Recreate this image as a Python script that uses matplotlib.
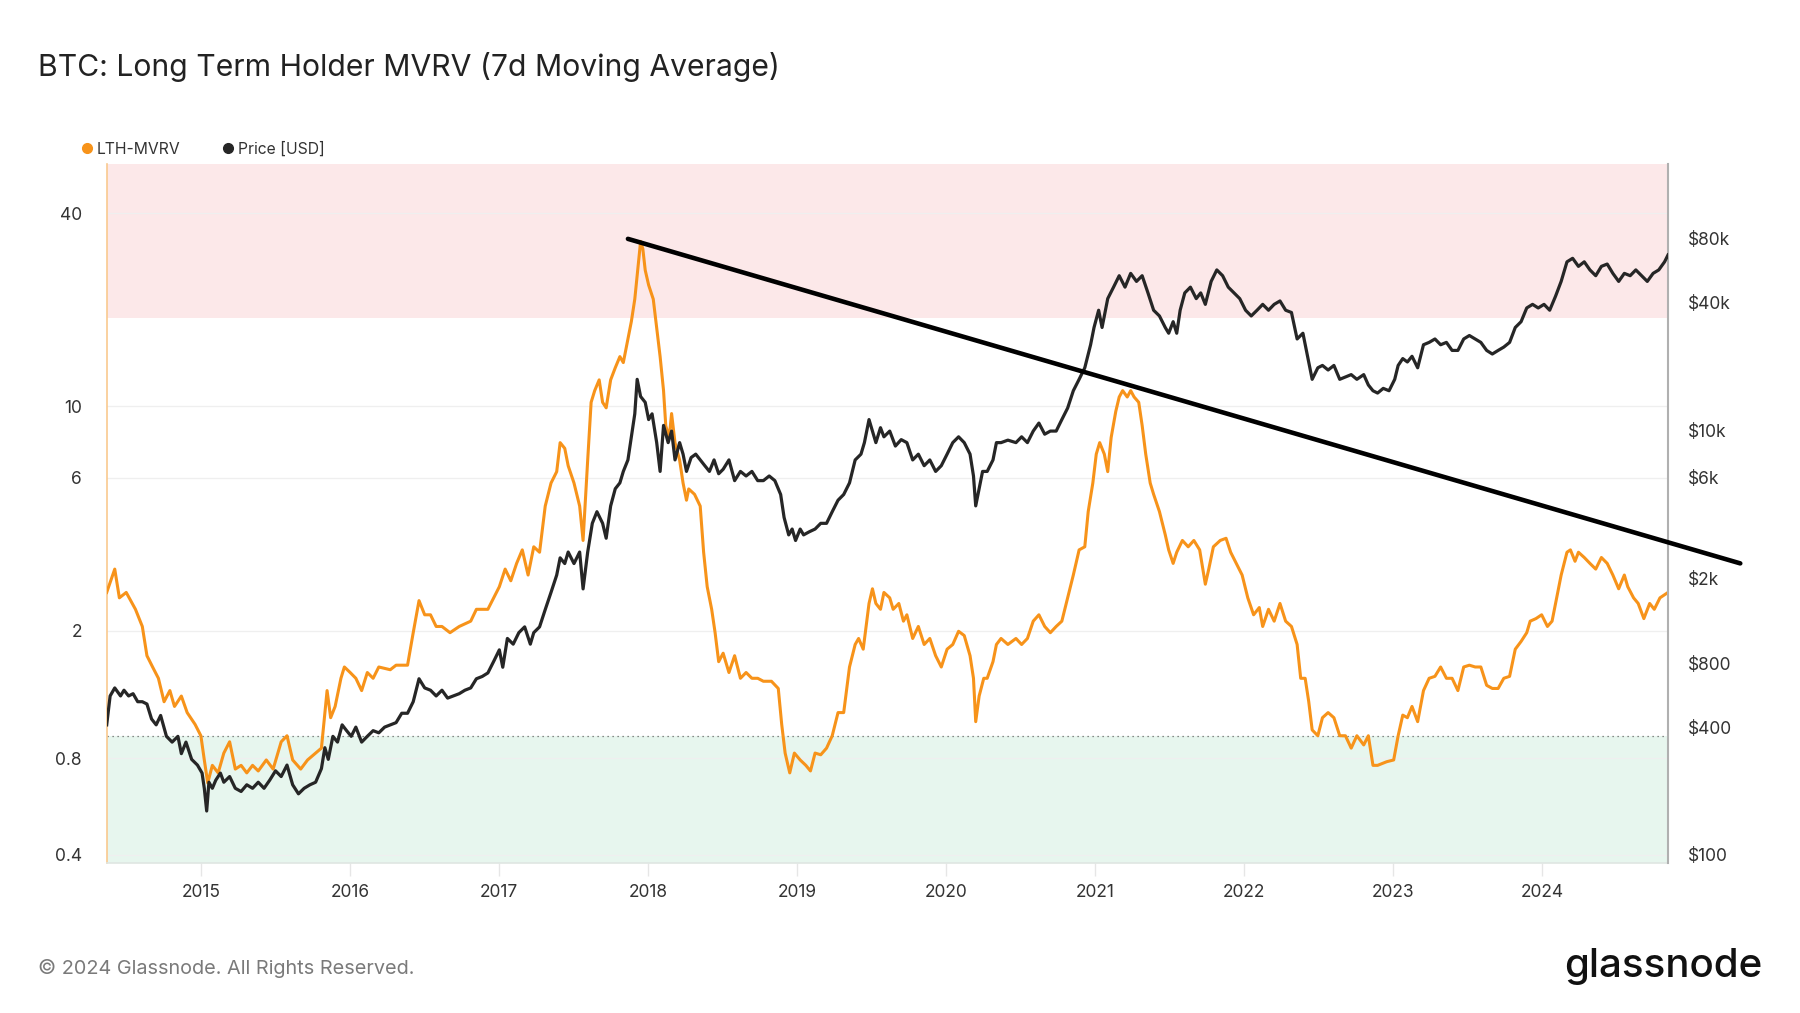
import matplotlib
matplotlib.use('Agg')
import matplotlib.pyplot as plt
from matplotlib.lines import Line2D
from matplotlib.ticker import NullLocator

plt.rcParams['font.family'] = ['Inter', 'DejaVu Sans']

# ---------------- data ----------------
lth_years = [2014.368, 2014.422, 2014.453, 2014.499, 2014.561, 2014.607, 2014.638, 2014.676, 2014.715, 2014.753,
             2014.792, 2014.823, 2014.869, 2014.908, 2014.961, 2015.000, 2015.023, 2015.046, 2015.077, 2015.116,
             2015.154, 2015.193, 2015.231, 2015.270, 2015.308, 2015.347, 2015.385, 2015.439, 2015.485, 2015.539,
             2015.578, 2015.616, 2015.670, 2015.716, 2015.770, 2015.809, 2015.847, 2015.871, 2015.901, 2015.940,
             2015.963, 2016.002, 2016.040, 2016.079, 2016.117, 2016.156, 2016.194, 2016.271, 2016.310, 2016.387,
             2016.425, 2016.464, 2016.502, 2016.541, 2016.579, 2016.618, 2016.672, 2016.734, 2016.811, 2016.849,
             2016.926, 2016.965, 2017.003, 2017.042, 2017.080, 2017.119, 2017.157, 2017.196, 2017.234, 2017.273,
             2017.311, 2017.350, 2017.388, 2017.411, 2017.442, 2017.465, 2017.504, 2017.542, 2017.565, 2017.596,
             2017.619, 2017.643, 2017.673, 2017.696, 2017.720, 2017.750, 2017.781, 2017.812, 2017.835, 2017.866,
             2017.889, 2017.912, 2017.935, 2017.951, 2017.966, 2017.982, 2018.005, 2018.036, 2018.059, 2018.082,
             2018.105, 2018.120, 2018.143, 2018.159, 2018.182, 2018.213, 2018.236, 2018.259, 2018.274, 2018.313,
             2018.351, 2018.374, 2018.398, 2018.428, 2018.451, 2018.475, 2018.505, 2018.544, 2018.582, 2018.621,
             2018.659, 2018.698, 2018.737, 2018.775, 2018.829, 2018.875, 2018.898, 2018.921, 2018.952, 2018.983,
             2019.022, 2019.060, 2019.091, 2019.122, 2019.160, 2019.199, 2019.237, 2019.276, 2019.314, 2019.353,
             2019.391, 2019.414, 2019.445, 2019.484, 2019.507, 2019.530, 2019.561, 2019.584, 2019.623, 2019.646,
             2019.684, 2019.715, 2019.738, 2019.777, 2019.815, 2019.854, 2019.892, 2019.931, 2019.969, 2020.008,
             2020.046, 2020.085, 2020.123, 2020.162, 2020.185, 2020.200, 2020.223, 2020.254, 2020.277, 2020.316,
             2020.339, 2020.370, 2020.416, 2020.470, 2020.508, 2020.547, 2020.586, 2020.624, 2020.663, 2020.701,
             2020.740, 2020.778, 2020.817, 2020.855, 2020.894, 2020.932, 2020.955, 2020.986, 2021.009, 2021.032,
             2021.063, 2021.086, 2021.109, 2021.140, 2021.163, 2021.186, 2021.217, 2021.240, 2021.263, 2021.294,
             2021.317, 2021.341, 2021.371, 2021.394, 2021.433, 2021.472, 2021.495, 2021.525, 2021.549, 2021.587,
             2021.626, 2021.664, 2021.703, 2021.741, 2021.764, 2021.795, 2021.841, 2021.880, 2021.911, 2021.949,
             2021.988, 2022.026, 2022.065, 2022.103, 2022.126, 2022.165, 2022.203, 2022.242, 2022.280, 2022.319,
             2022.357, 2022.381, 2022.411, 2022.435, 2022.458, 2022.496, 2022.527, 2022.565, 2022.604, 2022.643,
             2022.681, 2022.720, 2022.758, 2022.804, 2022.835, 2022.866, 2022.897, 2022.958, 2023.005, 2023.035,
             2023.066, 2023.097, 2023.128, 2023.166, 2023.205, 2023.243, 2023.282, 2023.320, 2023.359, 2023.397,
             2023.436, 2023.475, 2023.513, 2023.552, 2023.590, 2023.629, 2023.667, 2023.706, 2023.744, 2023.783,
             2023.821, 2023.860, 2023.898, 2023.921, 2023.960, 2023.998, 2024.037, 2024.068, 2024.099, 2024.129,
             2024.168, 2024.191, 2024.222, 2024.245, 2024.284, 2024.322, 2024.361, 2024.399, 2024.438, 2024.476,
             2024.515, 2024.553, 2024.576, 2024.615, 2024.646, 2024.684, 2024.723, 2024.754, 2024.792, 2024.846]

lth_mvrv = [2.63, 3.11, 2.53, 2.63, 2.33, 2.06, 1.67, 1.54, 1.42, 1.20,
            1.30, 1.16, 1.25, 1.11, 1.02, 0.94, 0.79, 0.67, 0.76, 0.72,
            0.83, 0.90, 0.74, 0.76, 0.72, 0.76, 0.73, 0.79, 0.74, 0.90,
            0.94, 0.79, 0.74, 0.79, 0.83, 0.86, 1.30, 1.07, 1.16, 1.42,
            1.54, 1.48, 1.42, 1.30, 1.48, 1.42, 1.54, 1.51, 1.56, 1.56,
            1.97, 2.48, 2.24, 2.24, 2.06, 2.06, 1.97, 2.06, 2.14, 2.33,
            2.33, 2.53, 2.74, 3.11, 2.86, 3.24, 3.57, 2.98, 3.65, 3.51,
            4.89, 5.77, 6.26, 7.71, 7.40, 6.53, 5.77, 4.89, 3.82, 6.81,
            10.3, 11.2, 12.1, 10.3, 9.9, 12.1, 13.2, 14.3, 13.7, 16.2,
            18.4, 21.6, 27.7, 32.7, 31.0, 26.6, 23.9, 21.6, 17.6, 14.3,
            11.2, 8.7, 8.0, 9.5, 7.7, 6.8, 5.77, 5.10, 5.53, 5.32,
            4.89, 3.51, 2.74, 2.33, 1.97, 1.60, 1.70, 1.48, 1.67, 1.42,
            1.48, 1.42, 1.42, 1.39, 1.39, 1.32, 1.02, 0.83, 0.72, 0.83,
            0.79, 0.76, 0.73, 0.83, 0.82, 0.86, 0.94, 1.11, 1.11, 1.54,
            1.81, 1.89, 1.75, 2.43, 2.70, 2.43, 2.33, 2.63, 2.53, 2.33,
            2.43, 2.14, 2.24, 1.89, 2.06, 1.81, 1.89, 1.67, 1.54, 1.75,
            1.81, 1.99, 1.93, 1.67, 1.42, 1.04, 1.25, 1.42, 1.42, 1.60,
            1.81, 1.89, 1.81, 1.89, 1.81, 1.89, 2.14, 2.24, 2.06, 1.97,
            2.06, 2.14, 2.53, 2.98, 3.57, 3.65, 4.70, 5.77, 7.10, 7.71,
            7.10, 6.26, 8.0, 9.65, 10.7, 11.2, 10.7, 11.2, 10.7, 10.3,
            8.72, 7.10, 5.77, 5.32, 4.70, 3.98, 3.57, 3.24, 3.51, 3.82,
            3.65, 3.82, 3.57, 2.79, 3.11, 3.65, 3.82, 3.88, 3.51, 3.24,
            2.98, 2.53, 2.24, 2.36, 2.06, 2.33, 2.14, 2.43, 2.14, 2.06,
            1.81, 1.42, 1.42, 1.20, 0.98, 0.94, 1.07, 1.11, 1.07, 0.94,
            0.94, 0.86, 0.94, 0.88, 0.94, 0.76, 0.76, 0.78, 0.79, 0.94,
            1.09, 1.07, 1.16, 1.04, 1.30, 1.42, 1.44, 1.54, 1.42, 1.42,
            1.30, 1.54, 1.56, 1.54, 1.54, 1.35, 1.32, 1.32, 1.42, 1.44,
            1.75, 1.85, 1.97, 2.14, 2.18, 2.24, 2.06, 2.14, 2.53, 2.98,
            3.51, 3.57, 3.29, 3.51, 3.38, 3.24, 3.11, 3.38, 3.24, 2.98,
            2.70, 2.98, 2.74, 2.53, 2.43, 2.18, 2.43, 2.33, 2.53, 2.63]

price_years = [2014.368, 2014.391, 2014.422, 2014.461, 2014.484, 2014.515, 2014.545, 2014.576, 2014.607, 2014.638,
               2014.669, 2014.700, 2014.730, 2014.769, 2014.807, 2014.846, 2014.869, 2014.900, 2014.938, 2014.977,
               2015.008, 2015.023, 2015.039, 2015.054, 2015.077, 2015.100, 2015.131, 2015.154, 2015.193, 2015.231,
               2015.270, 2015.308, 2015.347, 2015.385, 2015.424, 2015.462, 2015.501, 2015.539, 2015.578, 2015.616,
               2015.655, 2015.693, 2015.732, 2015.770, 2015.809, 2015.832, 2015.855, 2015.886, 2015.917, 2015.948,
               2015.978, 2016.009, 2016.040, 2016.079, 2016.117, 2016.156, 2016.194, 2016.233, 2016.271, 2016.310,
               2016.348, 2016.387, 2016.425, 2016.464, 2016.502, 2016.541, 2016.579, 2016.618, 2016.656, 2016.695,
               2016.734, 2016.772, 2016.811, 2016.849, 2016.888, 2016.926, 2016.965, 2017.003, 2017.026, 2017.057,
               2017.096, 2017.134, 2017.173, 2017.211, 2017.234, 2017.273, 2017.311, 2017.350, 2017.388, 2017.411,
               2017.442, 2017.465, 2017.504, 2017.542, 2017.565, 2017.596, 2017.627, 2017.658, 2017.696, 2017.720,
               2017.750, 2017.781, 2017.812, 2017.835, 2017.866, 2017.889, 2017.912, 2017.928, 2017.951, 2017.982,
               2018.005, 2018.028, 2018.059, 2018.082, 2018.105, 2018.136, 2018.159, 2018.182, 2018.213, 2018.236,
               2018.259, 2018.290, 2018.321, 2018.351, 2018.382, 2018.413, 2018.444, 2018.475, 2018.505, 2018.544,
               2018.582, 2018.621, 2018.659, 2018.698, 2018.737, 2018.775, 2018.814, 2018.852, 2018.891, 2018.914,
               2018.945, 2018.968, 2018.991, 2019.022, 2019.045, 2019.083, 2019.122, 2019.160, 2019.199, 2019.237,
               2019.276, 2019.314, 2019.353, 2019.391, 2019.430, 2019.453, 2019.484, 2019.507, 2019.530, 2019.561,
               2019.584, 2019.623, 2019.661, 2019.700, 2019.738, 2019.777, 2019.815, 2019.854, 2019.892, 2019.931,
               2019.969, 2020.008, 2020.046, 2020.085, 2020.123, 2020.162, 2020.185, 2020.200, 2020.223, 2020.246,
               2020.277, 2020.316, 2020.339, 2020.370, 2020.416, 2020.470, 2020.508, 2020.547, 2020.586, 2020.624,
               2020.663, 2020.701, 2020.740, 2020.778, 2020.817, 2020.855, 2020.894, 2020.932, 2020.971, 2020.994,
               2021.025, 2021.048, 2021.086, 2021.125, 2021.163, 2021.202, 2021.240, 2021.279, 2021.317, 2021.356,
               2021.394, 2021.433, 2021.472, 2021.495, 2021.525, 2021.549, 2021.572, 2021.603, 2021.641, 2021.680,
               2021.710, 2021.741, 2021.780, 2021.818, 2021.857, 2021.895, 2021.934, 2021.972, 2022.011, 2022.049,
               2022.088, 2022.126, 2022.165, 2022.203, 2022.242, 2022.280, 2022.319, 2022.357, 2022.396, 2022.435,
               2022.458, 2022.496, 2022.527, 2022.565, 2022.604, 2022.643, 2022.681, 2022.720, 2022.758, 2022.804,
               2022.835, 2022.866, 2022.897, 2022.935, 2022.974, 2023.012, 2023.035, 2023.066, 2023.097, 2023.128,
               2023.166, 2023.205, 2023.243, 2023.282, 2023.320, 2023.359, 2023.397, 2023.436, 2023.475, 2023.513,
               2023.552, 2023.590, 2023.629, 2023.667, 2023.706, 2023.744, 2023.783, 2023.821, 2023.860, 2023.898,
               2023.937, 2023.975, 2024.014, 2024.052, 2024.091, 2024.129, 2024.168, 2024.206, 2024.245, 2024.284,
               2024.322, 2024.361, 2024.399, 2024.438, 2024.476, 2024.515, 2024.553, 2024.592, 2024.630, 2024.669,
               2024.707, 2024.746, 2024.784, 2024.823, 2024.846]

price_usd = [410, 561, 612, 561, 597, 561, 575, 527, 527, 514,
             437, 410, 454, 362, 340, 362, 300, 340, 282, 265,
             243, 206, 161, 220, 206, 225, 243, 220, 234, 206,
             199, 214, 206, 220, 206, 225, 249, 234, 265, 214,
             194, 206, 214, 220, 255, 320, 282, 362, 340, 410,
             385, 362, 400, 340, 362, 385, 376, 400, 410, 420,
             465, 465, 527, 676, 612, 597, 561, 597, 548, 561,
             575, 597, 612, 676, 693, 720, 816, 925, 766, 1047,
             984, 1115, 1187, 984, 1115, 1187, 1432, 1727, 2082, 2510,
             2359, 2673, 2359, 2673, 1792, 2673, 3652, 4140, 3652, 3105,
             4406, 5311, 5659, 6410, 7262, 9330, 11970, 17410, 14450, 13560,
             11250, 11970, 8760, 6410, 10560, 8760, 9930, 7262, 8760, 7730,
             6410, 7450, 7730, 7262, 6820, 6410, 7262, 6250, 6560, 7262,
             5800, 6410, 6100, 6410, 5800, 5800, 6100, 5800, 4990, 3890,
             3220, 3430, 3030, 3430, 3220, 3330, 3430, 3650, 3650, 4140,
             4690, 4990, 5660, 7260, 7730, 8760, 11250, 9930, 8760, 10300,
             9330, 9930, 8440, 9050, 8760, 7260, 7730, 6820, 7260, 6410,
             6820, 7730, 8760, 9330, 8760, 7730, 6100, 4410, 5310, 6410,
             6410, 7260, 8760, 8760, 9000, 8760, 9330, 8760, 9930, 10830,
             9600, 9930, 9930, 11250, 12750, 15380, 17410, 19730, 25330, 30550,
             36840, 30550, 41780, 47320, 53580, 47320, 54950, 50360, 53580, 44460,
             36840, 34620, 30550, 28700, 32530, 28700, 36840, 44460, 47320, 41780,
             44460, 39260, 50360, 57050, 53580, 47320, 44460, 41780, 36840, 34620,
             36840, 39260, 36840, 39260, 40740, 36840, 35950, 26970, 28700, 21010,
             17410, 19730, 20240, 19260, 20240, 17410, 17860, 18320, 17410, 18320,
             16370, 15380, 15000, 15780, 15380, 17410, 20240, 21800, 21010, 22350,
             19730, 25330, 25990, 26970, 25330, 25990, 23820, 23820, 26970, 28000,
             26970, 25990, 23820, 22910, 23820, 24700, 25990, 30550, 32530, 37760,
             39260, 37760, 39260, 36840, 42830, 50360, 62280, 64710, 59290, 62280,
             57050, 53580, 59290, 60800, 54950, 50360, 54950, 53580, 57050, 53580,
             50360, 54950, 57050, 62280, 67100]

mvrv_ticks = [0.4, 0.8, 2, 6, 10, 40]
mvrv_tick_labels = ['0.4', '0.8', '2', '6', '10', '40']
price_ticks = [100, 400, 800, 2000, 6000, 10000, 40000, 80000]
price_tick_labels = ['$100', '$400', '$800', '$2k', '$6k', '$10k', '$40k', '$80k']
year_ticks = list(range(2015, 2025))
year_tick_labels = [str(y) for y in year_ticks]

trend_years = [2017.866, 2025.331]
trend_mvrv = [33.3, 3.24]

red_zone_floor = 18.8
green_zone_ceiling = 0.935

# ---------------- figure ----------------
W, H = 1800, 1013
fig = plt.figure(figsize=(W / 100, H / 100), dpi=100)
ax = fig.add_axes([107 / W, 150 / H, 1561 / W, 699 / H])

mv_lo, mv_hi = 0.377, 57
ax.set_yscale('log')
ax.set_ylim(mv_lo, mv_hi)
ax.set_xlim(2014.37, 2024.846)

ax.axhspan(red_zone_floor, mv_hi, color='#fce8e9', zorder=0, lw=0)
ax.axhspan(mv_lo, green_zone_ceiling, color='#e7f6ee', zorder=0, lw=0)
ax.axhline(green_zone_ceiling, color='#666666', ls=(0, (1, 3)), lw=0.9, zorder=1)

ax.plot(lth_years, lth_mvrv, color='#f7931a', lw=2.2, zorder=3, solid_joinstyle='round')

ax.set_yticks(mvrv_ticks)
ax.set_yticklabels(mvrv_tick_labels)
ax.yaxis.set_minor_locator(NullLocator())
ax.grid(axis='y', color='#efefef', lw=0.9, zorder=0.5)
ax.tick_params(axis='y', length=0, pad=18, labelsize=12.5, labelcolor='#333333')
ax.set_xticks(year_ticks)
ax.set_xticklabels(year_tick_labels)
ax.tick_params(axis='x', length=9, color='#e6e6e6', width=1, pad=6, labelsize=12.5, labelcolor='#333333')

for s in ['top', 'right']:
    ax.spines[s].set_visible(False)
ax.spines['left'].set_color('#f9c98f')
ax.spines['left'].set_linewidth(1.2)
ax.spines['bottom'].set_color('#dfe6e2')
ax.spines['bottom'].set_linewidth(1.2)

ax2 = ax.twinx()
ax2.set_yscale('log')
ax2.set_ylim(91.6, 180000)
ax2.plot(price_years, price_usd, color='#262626', lw=2.3, zorder=3, solid_joinstyle='round')
ax2.set_yticks(price_ticks)
ax2.set_yticklabels(price_tick_labels)
ax2.yaxis.set_minor_locator(NullLocator())
ax2.tick_params(axis='y', length=0, pad=14, labelsize=12.5, labelcolor='#333333')
for s in ['top', 'left', 'bottom']:
    ax2.spines[s].set_visible(False)
ax2.spines['right'].set_color('#b0b0b0')
ax2.spines['right'].set_linewidth(1.5)

ax2.plot(trend_years, trend_mvrv, transform=ax.transData, color='black', lw=3.3,
         clip_on=False, zorder=6, solid_capstyle='round')

# ---------------- texts ----------------
fig.text(38 / W, 1 - 67 / H, 'BTC: Long Term Holder MVRV (7d Moving Average)',
         fontsize=21.7, color='#222222', va='center', ha='left')
fig.text(38 / W, 1 - 968 / H, '\u00a9 2024 Glassnode. All Rights Reserved.',
         fontsize=14.3, color='#7a7a7a', va='center', ha='left')
fig.text(1762 / W, 1 - 966 / H, 'glassnode', fontsize=29, color='#111111',
         va='center', ha='right', fontweight='medium')

handles = [Line2D([], [], marker='o', ls='', color='#f7931a', ms=7),
           Line2D([], [], marker='o', ls='', color='#262626', ms=7)]
fig.legend(handles, ['LTH-MVRV', 'Price [USD]'], loc='center left',
           bbox_to_anchor=(79 / W, 1 - 149 / H), ncol=2, frameon=False,
           fontsize=11.3, handletextpad=0.15, columnspacing=2.5, handlelength=1.0,
           labelcolor='#333333', borderaxespad=0, borderpad=0)

fig.savefig('out.png', dpi=100)
